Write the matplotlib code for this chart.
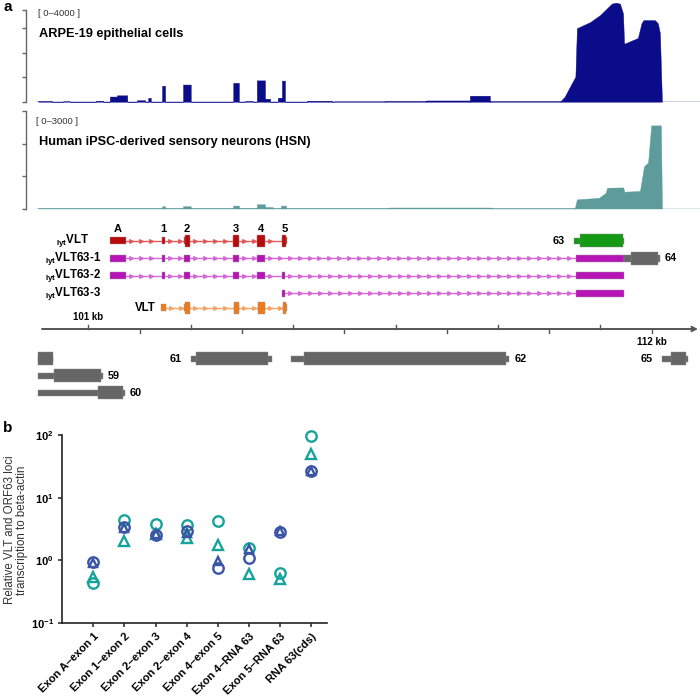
import matplotlib
matplotlib.use("Agg")
import matplotlib.pyplot as plt
from matplotlib.patches import Rectangle
from matplotlib.ticker import NullLocator
import numpy as np

plt.rcParams['font.family'] = ['Liberation Sans', 'DejaVu Sans']
plt.rcParams['mathtext.fontset'] = 'custom'
plt.rcParams['mathtext.rm'] = 'Liberation Sans'
plt.rcParams['mathtext.bf'] = 'Liberation Sans:bold'

W, H = 700, 698

# ---------------- panel a data (kb, reads) ----------------
arpe_block_start = [100.02, 100.51, 101.15, 101.42, 101.56, 101.95, 102.17, 102.44, 102.85, 103.83,
                    104.06, 104.29, 104.45, 104.70, 104.78, 105.27, 105.80, 106.80, 107.60, 108.45, 108.84]
arpe_block_end = [100.29, 100.64, 101.29, 101.56, 101.76, 102.11, 102.22, 102.50, 103.00, 103.94,
                  104.21, 104.45, 104.55, 104.78, 104.84, 105.76, 106.80, 107.60, 108.45, 108.84, 110.22]
arpe_block_reads = [30, 20, 40, 210, 260, 60, 160, 650, 700, 770,
                    30, 870, 120, 160, 860, 40, 15, 30, 50, 245, 25]
arpe_peak_kb = [110.22, 110.30, 110.37, 110.51, 110.54, 110.80, 111.00, 111.22, 111.30, 111.38,
                111.44, 111.46, 111.48, 111.73, 111.80, 111.84, 112.06, 112.12, 112.16, 112.20]
arpe_peak_reads = [25, 200, 480, 1020, 3000, 3250, 3550, 4000, 4040, 4000,
                   3600, 2380, 2380, 2600, 3200, 3330, 3330, 3200, 2800, 0]

hsn_block_start = [100.02, 102.44, 102.50, 102.85, 103.00, 103.83, 103.94, 104.29, 104.45, 104.60,
                   104.76, 104.86, 106.87, 108.88]
hsn_block_end = [102.44, 102.50, 102.85, 103.00, 103.83, 103.94, 104.29, 104.45, 104.60, 104.76,
                 104.86, 106.87, 108.88, 110.50]
hsn_block_reads = [15, 70, 15, 70, 15, 90, 20, 130, 45, 15, 90, 15, 30, 12]
hsn_peak_kb = [110.50, 110.54, 110.97, 111.10, 111.13, 111.44, 111.47, 111.50, 111.77, 111.85,
               111.93, 111.99, 112.18, 112.20]
hsn_peak_reads = [12, 280, 330, 480, 640, 650, 510, 520, 540, 1300, 1420, 2560, 2560, 0]

# transcripts (exon starts / ends in kb)
exon_labels = ['A', '1', '2', '3', '4', '5']
lytvlt_start = [101.424, 102.433, 102.868, 103.825, 104.293, 104.782]
lytvlt_end = [101.736, 102.497, 102.985, 103.942, 104.449, 104.880]
lyt63_1_start = [101.424, 102.433, 102.868, 103.825, 104.293, 110.516]
lyt63_1_end = [101.736, 102.497, 102.985, 103.942, 104.449, 111.465]
lyt63_2_start = [101.424, 102.433, 102.868, 103.825, 104.293, 104.782, 110.516]
lyt63_2_end = [101.736, 102.497, 102.985, 103.942, 104.449, 104.841, 111.465]
lyt63_3_start = [104.782, 110.516]
lyt63_3_end = [104.841, 111.465]
vlt_start = [102.419, 102.868, 103.845, 104.313, 104.795]
vlt_end = [102.517, 102.985, 103.948, 104.449, 104.885]
vlt_cds = (102.894, 104.860)

# ORFs
orf_names = ['', '59', '60', '61', '62', '63', '64', '65']
orf_start = [100.018, 100.018, 100.018, 103.005, 104.952, 110.483, 111.465, 112.201]
orf_cds_start = [100.018, 100.325, 101.180, 103.103, 105.211, 110.600, 111.590, 112.377]
orf_cds_end = [100.307, 101.240, 101.677, 104.508, 109.155, 111.434, 112.117, 112.679]
orf_end = [100.307, 101.287, 101.716, 104.577, 109.214, 111.465, 112.162, 112.700]

# ---------------- panel b data ----------------
junctions = ['Exon A\u2013exon 1', 'Exon 1\u2013exon 2', 'Exon 2\u2013exon 3', 'Exon 2\u2013exon 4',
             'Exon 4\u2013exon 5', 'Exon 4\u2013RNA 63', 'Exon 5\u2013RNA 63', 'RNA 63(cds)']
teal_circle = [0.44, 4.4, 3.8, 3.7, 4.3, 1.58, 0.63, 95]
teal_triangle = [0.55, 2.05, 2.6, 2.3, 1.75, 0.61, 0.50, 50]
blue_circle = [0.93, 3.4, 2.5, 2.9, 0.75, 1.1, 2.85, 26.5]
blue_triangle = [0.90, 3.3, 2.6, 2.7, 0.97, 1.5, 2.9, 26.5]

fig = plt.figure(figsize=(W / 100, H / 100), dpi=100)


def px_axes(x0, y0, x1, y1):
    return fig.add_axes([x0 / W, 1 - y1 / H, (x1 - x0) / W, (y1 - y0) / H])


def ftxt(x, y, s, **kw):
    fig.text(x / W, 1 - y / H, s, **kw)


def kb(px):
    return 101 + (px - 88.3) * 11 / 563.4


def coverage_xy(starts, ends, reads, peak_kb, peak_reads):
    xs, ys = [], []
    for s, e, v in zip(starts, ends, reads):
        xs += [s, s, e, e]
        ys += [0, v, v, 0]
    return np.array(xs + peak_kb), np.array(ys + peak_reads)


def track(ax, x, y, color, base_color, top, spine_top, ticks):
    ax.fill_between(x, y, 0, color=color, lw=0.3, edgecolor=color)
    ax.plot([100.0, kb(700)], [0, 0], color=base_color, lw=1.2, zorder=0)
    ax.set_xlim(kb(26), kb(700))
    ax.set_ylim(0, top)
    for s in ['top', 'right', 'bottom']:
        ax.spines[s].set_visible(False)
    ax.spines['left'].set_bounds(0, spine_top)
    ax.spines['left'].set_color('#666666')
    ax.spines['left'].set_linewidth(1)
    ax.set_xticks([])
    ax.set_yticks(ticks)
    ax.set_yticklabels([])
    ax.tick_params(axis='y', length=3, width=1, color='#666666', direction='out')
    ax.patch.set_alpha(0)


# ARPE-19 track
ax1 = px_axes(26, 101.7 - 4080 / 40.8, 700, 101.7)
x, y = coverage_xy(arpe_block_start, arpe_block_end, arpe_block_reads, arpe_peak_kb, arpe_peak_reads)
track(ax1, x, y, '#0a0c8a', '#c5c8e4', 4080, 3760, [0, 1000, 2000, 3000, 3760])
ftxt(38, 14, '[ 0\u20134000 ]', fontsize=6.8, color='#333333', va='center')
ftxt(39, 34, 'ARPE-19 epithelial cells', fontsize=9.2, fontweight='bold', va='center')

# HSN track
ax2 = px_axes(26, 208.5 - 3000 / 30.8, 700, 208.5)
x, y = coverage_xy(hsn_block_start, hsn_block_end, hsn_block_reads, hsn_peak_kb, hsn_peak_reads)
track(ax2, x, y, '#5e9c9c', '#d2e4e4', 3000, 3000, [0, 1000, 2000, 3000])
ftxt(36, 121, '[ 0\u20133000 ]', fontsize=6.8, color='#333333', va='center')
ftxt(39, 142, 'Human iPSC-derived sensory neurons (HSN)', fontsize=9.2, fontweight='bold', va='center')

ftxt(3, 7, 'a', fontsize=11, fontweight='bold', va='center')
ftxt(3, 428, 'b', fontsize=11, fontweight='bold', va='center')

# gene model axes (y in pixels)
axg = px_axes(0, 215, 700, 425)
axg.set_xlim(kb(0), kb(700))
axg.set_ylim(425, 215)
axg.axis('off')


def transcript(starts, ends, yc, color, line_color, cds=None):
    axg.plot([ends[0], starts[-1]], [yc, yc], color=line_color, lw=1, zorder=1)
    for i in range(len(starts) - 1):
        ax_pts = np.arange(ends[i] + 0.09, starts[i + 1] - 0.05, 0.195)
        axg.plot(ax_pts, [yc] * len(ax_pts), ls='none', marker='>', ms=2.6,
                 color=line_color, zorder=1)
    for s, e in zip(starts, ends):
        axg.add_patch(Rectangle((s, yc - 3.5), e - s, 7, facecolor=color,
                                edgecolor='#999999', lw=0.3, zorder=2))
        if cds is not None:
            cs, ce = max(s, cds[0]), min(e, cds[1])
            if ce > cs:
                axg.add_patch(Rectangle((cs, yc - 6), ce - cs, 12, facecolor=color,
                                        edgecolor='#999999', lw=0.3, zorder=3))


red, magenta, orange = '#b80a0a', '#b714b7', '#f07a18'
transcript(lytvlt_start, lytvlt_end, 241, red, '#e05a5a', vlt_cds)
transcript(lyt63_1_start, lyt63_1_end, 258.3, magenta, '#d766d7')
transcript(lyt63_2_start, lyt63_2_end, 275.7, magenta, '#d766d7')
transcript(lyt63_3_start, lyt63_3_end, 293.3, magenta, '#d766d7')
transcript(vlt_start, vlt_end, 307.7, orange, '#f5a466', vlt_cds)

for lab, s, e in zip(exon_labels, lytvlt_start, lytvlt_end):
    axg.text((s + e) / 2, 229, lab, ha='center', va='center', fontsize=8, fontweight='bold')

ftxt(73, 241, r'$_{\mathbf{lyt}}$VLT', ha='center', va='center', fontsize=8.3, fontweight='bold')
ftxt(73.5, 258.3, r'$_{\mathbf{lyt}}$VLT63-1', ha='center', va='center', fontsize=8.3, fontweight='bold')
ftxt(73.5, 275.7, r'$_{\mathbf{lyt}}$VLT63-2', ha='center', va='center', fontsize=8.3, fontweight='bold')
ftxt(73.5, 293.3, r'$_{\mathbf{lyt}}$VLT63-3', ha='center', va='center', fontsize=8.3, fontweight='bold')
ftxt(156, 307.7, 'VLT', ha='right', va='center', fontsize=8.3, fontweight='bold')

# ruler
ry = 329
axg.annotate('', xy=(kb(698), ry), xytext=(kb(42), ry),
             arrowprops=dict(arrowstyle='->', color='#555555', lw=1.4, shrinkA=0, shrinkB=0,
                             mutation_scale=8))
for k in range(101, 113):
    dy = -4 if k % 2 == 1 else 4
    axg.plot([k, k], [ry, ry + dy], color='#555555', lw=1)
axg.text(101, 317, '101 kb', ha='center', va='center', fontsize=7, fontweight='bold')
axg.text(112, 342, '112 kb', ha='center', va='center', fontsize=7, fontweight='bold')

# ORFs
orf_row = [359, 376, 393, 359, 359, 241, 258.3, 359]
orf_side = ['', 'r', 'r', 'l', 'r', 'l', 'r', 'l']
orf_color = ['#666666'] * 5 + ['#159a15', '#666666', '#666666']
for name, s, cs, ce, e, yc, side, c in zip(orf_names, orf_start, orf_cds_start, orf_cds_end,
                                          orf_end, orf_row, orf_side, orf_color):
    axg.add_patch(Rectangle((s, yc - 3.3), e - s, 6.6, facecolor=c, edgecolor='#888888', lw=0.3, zorder=2))
    axg.add_patch(Rectangle((cs, yc - 6.5), ce - cs, 13, facecolor=c, edgecolor='#888888', lw=0.3, zorder=3))
    if side == 'r':
        axg.text(e + 0.1, yc, name, ha='left', va='center', fontsize=7.8, fontweight='bold')
    elif side == 'l':
        axg.text(s - 0.18, yc, name, ha='right', va='center', fontsize=7.8, fontweight='bold')

# ---------------- panel b ----------------
axb = px_axes(62, 435, 327, 623)
pos = np.arange(len(junctions))
teal, blue = '#16a39b', '#3a55a5'
axb.plot(pos, teal_circle, 'o', mfc='none', mec=teal, mew=1.7, ms=7.5, clip_on=False)
axb.plot(pos, teal_triangle, '^', mfc='none', mec=teal, mew=1.7, ms=7, clip_on=False)
axb.plot(pos, blue_circle, 'o', mfc='none', mec=blue, mew=1.7, ms=7.5, clip_on=False)
axb.plot(pos, blue_triangle, '^', mfc='none', mec=blue, mew=1.7, ms=6, clip_on=False)
axb.set_yscale('log')
axb.set_ylim(0.1, 100)
axb.set_xlim(-1.0, 7.5)
axb.yaxis.set_minor_locator(NullLocator())
axb.set_yticks([0.1, 1, 10, 100])
axb.set_yticklabels([r'$\mathbf{10^{-1}}$', r'$\mathbf{10^{0}}$', r'$\mathbf{10^{1}}$', r'$\mathbf{10^{2}}$'],
                    fontsize=8)
axb.set_xticks(pos)
axb.set_xticklabels(junctions, rotation=45, ha='right', va='top', rotation_mode='anchor',
                    fontsize=8, fontweight='bold')
for s in ['top', 'right']:
    axb.spines[s].set_visible(False)
for s in ['left', 'bottom']:
    axb.spines[s].set_linewidth(1.2)
    axb.spines[s].set_color('#222222')
axb.tick_params(length=3, width=1.1, color='#222222', pad=3)
ftxt(16, 530, 'Relative VLT and ORF63 loci\ntranscription to beta-actin', rotation=90,
     ha='center', va='center', fontsize=8.3, color='#333333', multialignment='center',
     linespacing=1.1)

fig.savefig('out.png', dpi=100)
